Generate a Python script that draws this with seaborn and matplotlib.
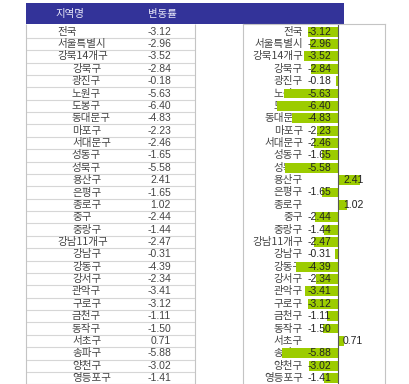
import numpy as np
import pandas as pd
import seaborn as sns
import matplotlib.pyplot as plt

# Data
regions = ["전국", "서울특별시", "강북14개구", "강북구", "광진구", "노원구", "도봉구",
           "동대문구", "마포구", "서대문구", "성동구", "성북구", "용산구", "은평구",
           "종로구", "중구", "중랑구", "강남11개구", "강남구", "강동구", "강서구",
           "관악구", "구로구", "금천구", "동작구", "서초구", "송파구", "양천구", "영등포구"]
levels = [0, 0, 0, 1, 1, 1, 1, 1, 1, 1, 1, 1, 1, 1, 1, 1, 1,
          0, 1, 1, 1, 1, 1, 1, 1, 1, 1, 1, 1]
changes = [-3.12, -2.96, -3.52, -2.84, -0.18, -5.63, -6.40, -4.83, -2.23, -2.46,
           -1.65, -5.58, 2.41, -1.65, 1.02, -2.44, -1.44, -2.47, -0.31, -4.39,
           -2.34, -3.41, -3.12, -1.11, -1.50, 0.71, -5.88, -3.02, -1.41]
headers = ["지역명", "변동률"]

df = pd.DataFrame({"region": regions, "change": changes, "level": levels})

sns.set_theme(style="white")
plt.rcParams["font.family"] = ["Noto Sans CJK KR", "DejaVu Sans"]

fig = plt.figure(figsize=(4.10, 3.84), dpi=100)
fig.patch.set_facecolor("white")

# Table on the left (pixel coordinates)
tab = fig.add_axes([0, 0, 1, 1])
tab.set_xlim(0, 410)
tab.set_ylim(384, 0)
tab.axis("off")

row0, row_h = 31.7, 12.37
rows_y = row0 + row_h * np.arange(len(df))

tab.add_patch(plt.Rectangle((26, 3), 318, 21, color="#333399", lw=0))
tab.text(70, 13.5, headers[0], color="#e8e8f8", ha="center", va="center", fontsize=7.5)
tab.text(162, 13.5, headers[1], color="#e8e8f8", ha="center", va="center", fontsize=7.5)

tab.hlines(rows_y + row_h / 2, 26, 195, color="#d6d6d6", lw=0.8)
tab.vlines([26, 195], 24, 384, color="#c4c4c4", lw=0.8)

for y, name, lv, v in zip(rows_y, df["region"], df["level"], df["change"]):
    tab.text(57 + 15 * lv, y, name, ha="left", va="center", fontsize=7.6, color="#444444")
    tab.text(171, y, f"{v:.2f}", ha="right", va="center", fontsize=7.5,
             family="Liberation Sans", color="#444444")

# Bar chart on the right
ax = fig.add_axes([243 / 410, 0, 142 / 410, 360 / 384])
sns.barplot(data=df, x="change", y="region", orient="h", color="#9ccc00",
            saturation=1, width=0.8, linewidth=0, ax=ax)
for p in ax.patches:
    p.set_zorder(2)

ax.set_xlim(-10, 5)
ax.set_ylim(-0.62 + 360 / row_h, -0.62)
ax.axvline(0, color="#555555", lw=0.8, zorder=2.5)

for i, (name, v) in enumerate(zip(df["region"], df["change"])):
    ax.text(-3.66, i, name, ha="right", va="center", fontsize=7.6,
            color="#444444", zorder=1.5)
    if v < 0:
        ax.text(-0.7, i, f"{v:.2f}", ha="right", va="center", fontsize=7.5,
                family="Liberation Sans", color="#222222", zorder=3)
    else:
        ax.text(0.56, i, f"{v:.2f}", ha="left", va="center", fontsize=7.5,
                family="Liberation Sans", color="#222222", zorder=3)

ax.set_xticks([])
ax.set_yticks([])
ax.set_xlabel("")
ax.set_ylabel("")
for side in ["left", "top", "right"]:
    ax.spines[side].set_color("#c4c4c4")
    ax.spines[side].set_linewidth(0.8)
ax.spines["bottom"].set_visible(False)

plt.savefig("out.png", dpi=100)
